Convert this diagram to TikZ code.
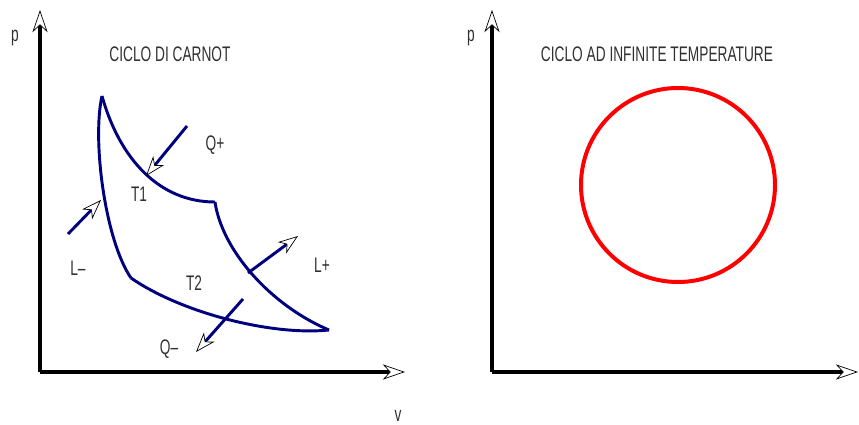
\documentclass[tikz,border=0pt]{standalone}
\usepackage{fontspec}
\setsansfont{Liberation Sans}[FakeStretch=0.65]
\usetikzlibrary{arrows.meta}
\definecolor{mNavy}{HTML}{00007F}
\definecolor{mRed}{HTML}{FF0000}
\definecolor{mInk}{HTML}{303030}

\tikzset{
  axis/.style={line width=3.2pt, black,
    -{Stealth[length=19pt, width=13pt, inset=6pt, fill=white, color=black, line width=0.6pt]}},
  cycle/.style={line width=2.5pt, mNavy, line join=round},
  flow/.style={line width=2.5pt, mNavy,
    -{Stealth[length=17pt, width=12pt, inset=5pt, fill=white, color=black, line width=0.6pt]}},
  lbl/.style={font=\sffamily\fontsize{18}{20}\selectfont, text=mInk, inner sep=0pt}
}

\begin{document}
\begin{tikzpicture}[x=0.03cm, y=-0.03cm]
    \useasboundingbox (0,0) rectangle (859,425);
    % left axes
    \coordinate (oL) at (40,372);
    \coordinate (pL) at (40,10);
    \coordinate (vL) at (405,372);
    \draw[axis] (oL) -- (pL);
    \draw[axis] (oL) -- (vL);
    \node[lbl] (labpL) at (15,38) {p};
    \node[lbl] (labv) at (398,416) {v};
    \node[lbl] (titL) at (170,54) {CICLO DI CARNOT};
    % carnot cycle
    \coordinate (A) at (102,96);
    \coordinate (B) at (215,202);
    \coordinate (C) at (329,330);
    \coordinate (D) at (131,278);
    \draw[cycle] (A) .. controls (120,160) and (160,202) .. (B);
    \draw[cycle] (B) .. controls (222,250) and (270,305) .. (C);
    \draw[cycle] (C) .. controls (270,336) and (180,312) .. (D);
    \draw[cycle] (D) .. controls (105,240) and (92,140) .. (A);
    % heat and work
    \coordinate (qpin) at (187,126);
    \coordinate (qpon) at (146,176);
    \coordinate (lmin) at (68,234);
    \coordinate (lmon) at (101,200);
    \coordinate (lpon) at (248,273);
    \coordinate (lpout) at (298,236);
    \coordinate (qmon) at (243,299);
    \coordinate (qmout) at (196,352);
    \draw[flow] (qpin) -- (qpon);
    \draw[flow] (lmin) -- (lmon);
    \draw[flow] (lpon) -- (lpout);
    \draw[flow] (qmon) -- (qmout);
    \node[lbl] (labqp) at (215,145) {Q+};
    \node[lbl] (labt1) at (139,194) {T1};
    \node[lbl] (lablm) at (78,268) {L\textendash};
    \node[lbl] (labt2) at (194,283) {T2};
    \node[lbl] (lablp) at (322,265) {L+};
    \node[lbl] (labqm) at (169,349) {Q\textendash};
    % right axes
    \coordinate (oR) at (492,372);
    \coordinate (pR) at (492,10);
    \coordinate (vR) at (858,372);
    \draw[axis] (oR) -- (pR);
    \draw[axis] (oR) -- (vR);
    \node[lbl] (labpR) at (471,38) {p};
    \node[lbl] (titR) at (657,54) {CICLO AD INFINITE TEMPERATURE};
    % infinite temperature cycle
    \draw[line width=3.4pt, mRed] (678,185) circle[radius=97];
\end{tikzpicture}
\end{document}
